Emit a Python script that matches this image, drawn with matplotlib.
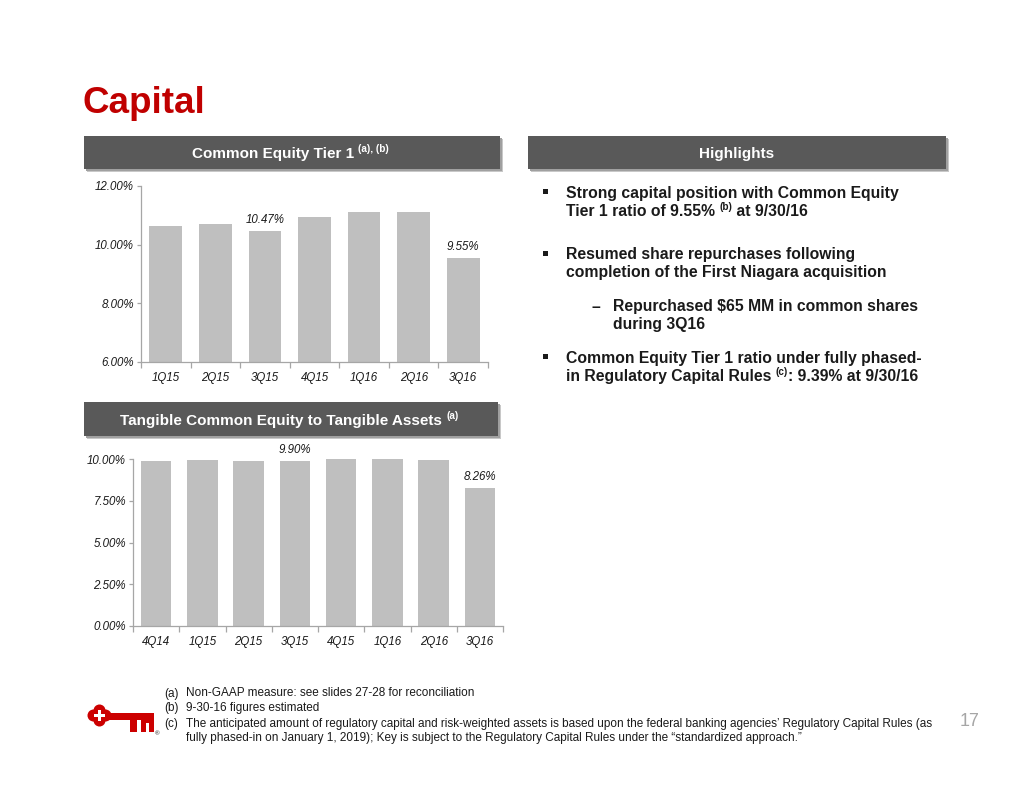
import matplotlib
matplotlib.use('Agg')
import matplotlib.pyplot as plt
from matplotlib.patches import Rectangle, Circle
from matplotlib import font_manager

# ---------------- data ----------------
cet1_quarters = ['1Q15', '2Q15', '3Q15', '4Q15', '1Q16', '2Q16', '3Q16']
cet1_values = [10.63, 10.71, 10.47, 10.95, 11.11, 11.10, 9.55]
cet1_labeled = ['3Q15', '3Q16']
cet1_yticks = [6.0, 8.0, 10.0, 12.0]

tce_quarters = ['4Q14', '1Q15', '2Q15', '3Q15', '4Q15', '1Q16', '2Q16', '3Q16']
tce_values = [9.88, 9.92, 9.86, 9.90, 9.98, 9.98, 9.96, 8.26]
tce_labeled = ['3Q15', '3Q16']
tce_yticks = [0.0, 2.5, 5.0, 7.5, 10.0]

title = 'Capital'
footnotes = [
    ('(a)', ['Non-GAAP measure: see slides 27-28 for reconciliation']),
    ('(b)', ['9-30-16 figures estimated']),
    ('(c)', ['The anticipated amount of regulatory capital and risk-weighted assets is based upon the federal banking agencies\u2019 Regulatory Capital Rules (as',
             'fully phased-in on January 1, 2019); Key is subject to the Regulatory Capital Rules under the \u201cstandardized approach.\u201d']),
]

# ---------------- setup ----------------
W, H = 1034, 799
FONT = 'Liberation Sans'
names = {f.name for f in font_manager.fontManager.ttflist}
NARROW = 'Liberation Sans Narrow' if 'Liberation Sans Narrow' in names else FONT
RED = '#C00000'
BAR = '#BFBFBF'
SPINE = '#A6A6A6'
HDR = '#595959'
TXT = '#1A1A1A'

fig = plt.figure(figsize=(W / 100, H / 100), dpi=100)
fig.patch.set_facecolor('white')

bg = fig.add_axes([0, 0, 1, 1], zorder=0)
bg.set_xlim(0, W)
bg.set_ylim(H, 0)
bg.axis('off')


def px_axes(l, t, r, b):
    ax = fig.add_axes([l / W, 1 - b / H, (r - l) / W, (b - t) / H], zorder=2)
    ax.patch.set_alpha(0)
    return ax


def rich(x, y, pieces, color, weight='bold', family=FONT, ax=None):
    ax = ax or bg
    txt, size, rise = pieces[0]
    prev = ax.text(x, y, txt, fontsize=size, color=color, weight=weight,
                   family=family, va='baseline', ha='left')
    prev_rise = rise
    for txt, size, rise in pieces[1:]:
        prev = ax.annotate(txt, xy=(1, 0), xycoords=prev,
                           xytext=(0, rise - prev_rise), textcoords='offset points',
                           fontsize=size, color=color, weight=weight, family=family,
                           va='bottom', ha='left')
        prev_rise = rise
    return prev


def header_box(l, t, r, b):
    bg.add_patch(Rectangle((l + 3, t + 3), r - l, b - t, facecolor='#C8C8C8',
                           edgecolor='none', zorder=1))
    bg.add_patch(Rectangle((l + 1.5, t + 1.5), r - l, b - t, facecolor='#A0A0A0',
                           edgecolor='none', zorder=1))
    bg.add_patch(Rectangle((l, t), r - l, b - t, facecolor=HDR, edgecolor='none', zorder=2))


# ---------------- title ----------------
bg.text(83, 113, title, fontsize=26.5, weight='bold', color=RED, family=FONT,
        va='baseline', ha='left')

# ---------------- header boxes ----------------
header_box(84, 136, 500, 169)
header_box(528, 136, 946, 169)
header_box(84, 402, 498, 436)

SUP = 7.2
rich(192, 158, [('Common Equity Tier 1 ', 11, 0), ('(a), (b)', SUP, 5)], 'white')
bg.text(737, 158, 'Highlights', fontsize=11, weight='bold', color='white',
        family=FONT, va='baseline', ha='center')
rich(120, 424.5, [('Tangible Common Equity to Tangible Assets ', 11, 0), ('(a)', SUP, 5)], 'white')


# ---------------- bar charts ----------------
def bar_chart(ax, cats, vals, labeled, yticks, ylim):
    xs = list(range(len(cats)))
    ax.bar(xs, vals, width=0.66, color=BAR, edgecolor='none', zorder=2)
    ax.set_xlim(-0.5, len(cats) - 0.5)
    ax.set_ylim(*ylim)
    ax.set_yticks(yticks)
    ax.set_yticklabels([f'{v:.2f}%' for v in yticks])
    ax.set_xticks(xs)
    ax.set_xticklabels(cats)
    ax.set_xticks([i - 0.5 for i in range(len(cats) + 1)], minor=True)
    for s in ['top', 'right']:
        ax.spines[s].set_visible(False)
    for s in ['left', 'bottom']:
        ax.spines[s].set_color(SPINE)
        ax.spines[s].set_linewidth(0.9)
    ax.tick_params(axis='x', which='major', length=0, pad=7)
    ax.tick_params(axis='x', which='minor', length=4, color=SPINE, width=0.9)
    ax.tick_params(axis='y', length=3, color=SPINE, width=0.9, pad=2)
    for lab in ax.get_xticklabels() + ax.get_yticklabels():
        lab.set_fontfamily(FONT)
        lab.set_fontstyle('italic')
        lab.set_fontsize(8.3)
        lab.set_color(TXT)
    for c, v in zip(cats, vals):
        if c in labeled:
            ax.annotate(f'{v:.2f}%', xy=(cats.index(c), v), xytext=(0, 3.5),
                        textcoords='offset points', ha='center', va='bottom',
                        fontsize=8.3, style='italic', family=FONT, color=TXT)


ax1 = px_axes(141, 186, 488, 362)
bar_chart(ax1, cet1_quarters, cet1_values, cet1_labeled, cet1_yticks, (6, 12))

ax2 = px_axes(133, 459, 503, 626)
bar_chart(ax2, tce_quarters, tce_values, tce_labeled, tce_yticks, (0, 10))

# ---------------- highlights ----------------
BS = 11.3
TX = 566


def bullet(y):
    bg.add_patch(Rectangle((543, y - 9), 5, 5, facecolor=TXT, edgecolor='none'))


bullet(198)
rich(TX, 198, [('Strong capital position with Common Equity', BS, 0)], TXT)
rich(TX, 216, [('Tier 1 ratio of 9.55% ', BS, 0), ('(b)', SUP, 5), (' at 9/30/16', BS, 0)], TXT)

bullet(259.5)
rich(TX, 259.5, [('Resumed share repurchases following', BS, 0)], TXT)
rich(TX, 277.5, [('completion of the First Niagara acquisition', BS, 0)], TXT)

bg.text(591, 311.5, '\u2013', fontsize=BS, weight='bold', color=TXT, family=FONT, va='baseline')
rich(613, 311.5, [('Repurchased $65 MM in common shares', BS, 0)], TXT)
rich(613, 329.5, [('during 3Q16', BS, 0)], TXT)

bullet(363)
rich(TX, 363, [('Common Equity Tier 1 ratio under fully phased-', BS, 0)], TXT)
rich(TX, 381, [('in Regulatory Capital Rules ', BS, 0), ('(c)', SUP, 5), (': 9.39% at 9/30/16', BS, 0)], TXT)

# ---------------- footnotes ----------------
FN = 8.5
fy = [696.5, 711.5, 726.5]
for (tag, lines), y in zip(footnotes, fy):
    bg.text(164, y, tag, fontsize=FN, family=NARROW, color=TXT, va='baseline')
    for k, line in enumerate(lines):
        bg.text(186, y + k * 14.5, line, fontsize=FN, family=NARROW, color=TXT, va='baseline')

# page number
bg.text(960, 726, '17', fontsize=13, family=FONT, color='#A6A6A6', va='baseline')

# ---------------- key logo ----------------
KR = '#CC0000'
cx, cy = 99.5, 715.5
for dx, dy in [(-6, 0), (6, 0), (0, -5), (0, 5)]:
    bg.add_patch(Circle((cx + dx, cy + dy), 6, facecolor=KR, edgecolor='none', zorder=3))
bg.add_patch(Circle((cx, cy), 8, facecolor=KR, edgecolor='none', zorder=3))
bg.add_patch(Rectangle((cx - 5.5, cy - 1.5), 11, 3, facecolor='white', edgecolor='none', zorder=4))
bg.add_patch(Rectangle((cx - 1.5, cy - 5.5), 3, 11, facecolor='white', edgecolor='none', zorder=4))
bg.add_patch(Rectangle((108, 712.5), 45.5, 7, facecolor=KR, edgecolor='none', zorder=3))
bg.add_patch(Rectangle((129.5, 718), 7.5, 14, facecolor=KR, edgecolor='none', zorder=3))
bg.add_patch(Rectangle((141, 718), 12.5, 14, facecolor=KR, edgecolor='none', zorder=3))
bg.add_patch(Rectangle((146, 723), 2.5, 9.5, facecolor='white', edgecolor='none', zorder=4))
bg.text(154.5, 735, '\u00ae', fontsize=4.5, family=FONT, color=TXT, va='baseline')

fig.savefig('out.png', dpi=100, facecolor='white')
